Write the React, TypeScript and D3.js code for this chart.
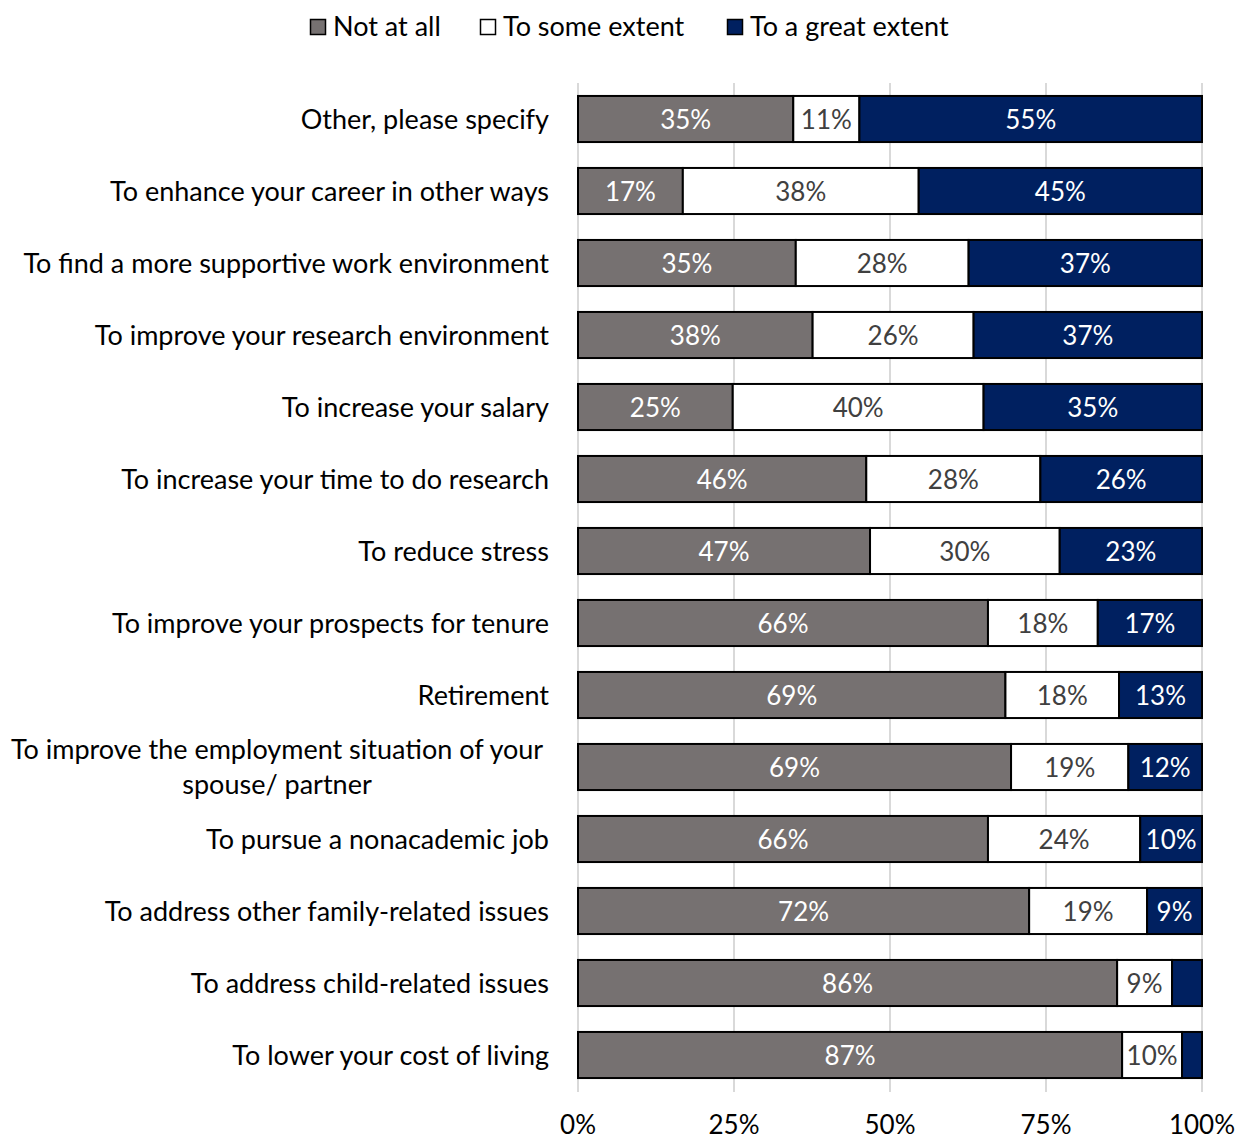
import React from "react";
import * as d3 from "d3";

const categories = [
  "Other, please specify",
  "To enhance your career in other ways",
  "To find a more supportive work environment",
  "To improve your research environment",
  "To increase your salary",
  "To increase your time to do research",
  "To reduce stress",
  "To improve your prospects for tenure",
  "Retirement",
  "To improve the employment situation of your spouse/ partner",
  "To pursue a nonacademic job",
  "To address other family-related issues",
  "To address child-related issues",
  "To lower your cost of living",
];

const notAtAll = [34.5, 16.8, 34.9, 37.6, 24.8, 46.2, 46.8, 65.7, 68.5, 69.4, 65.7, 72.3, 86.4, 87.2];
const toSomeExtent = [10.6, 37.8, 27.7, 25.8, 40.2, 27.9, 30.4, 17.6, 18.2, 18.8, 24.4, 18.9, 8.8, 9.6];
const toAGreatExtent = [54.9, 45.4, 37.4, 36.6, 35.0, 25.9, 22.8, 16.7, 13.3, 11.8, 9.9, 8.8, 4.8, 3.2];

const seriesNames = ["Not at all", "To some extent", "To a great extent"];
const xTicks = [0, 25, 50, 75, 100];

const colors = ["#767171", "#ffffff", "#002060"];
const textColors = ["#ffffff", "#404040", "#ffffff"];

const wrapped: Record<string, string[]> = {
  "To improve the employment situation of your spouse/ partner": [
    "To improve the employment situation of your",
    "spouse/ partner",
  ],
};

export default function App() {
  const width = 1237;
  const height = 1140;
  const font = "Lato, 'Open Sans', sans-serif";
  const x = d3.scaleLinear().domain([0, 100]).range([578, 1202]);
  const y = d3
    .scaleBand<string>()
    .domain(categories)
    .range([83, 1091])
    .paddingInner(0.36)
    .paddingOuter(0.18);

  const rows = categories.map((c, i) => ({
    cat: c,
    v0: notAtAll[i],
    v1: toSomeExtent[i],
    v2: toAGreatExtent[i],
  }));
  const stack = d3.stack<any>().keys(["v0", "v1", "v2"]);
  const stacked = stack(rows);

  const legendX = [310, 480, 727];

  return (
    <svg
      width={width}
      height={height}
      style={{ position: "absolute", left: 0, top: 0, background: "#fff" }}
      fontFamily={font}
    >
      <rect x={0} y={0} width={width} height={height} fill="#fff" />
      {/* legend */}
      {seriesNames.map((s, i) => (
        <g key={s}>
          <rect
            x={legendX[i] + 0.5}
            y={19.5}
            width={15}
            height={15}
            fill={colors[i]}
            stroke="#000"
            strokeWidth={1.5}
          />
          <text x={legendX[i] + 23} y={36} fontSize={27} fill="#000">
            {s}
          </text>
        </g>
      ))}
      {/* gridlines */}
      {xTicks.map((t) => (
        <line
          key={t}
          x1={x(t)}
          x2={x(t)}
          y1={83}
          y2={1092}
          stroke="#d9d9d9"
          strokeWidth={2}
        />
      ))}
      {/* bars */}
      {stacked.map((layer, si) =>
        layer.map((d: any, i: number) => {
          const cat = categories[i];
          const x0 = x(d[0]);
          const x1 = x(d[1]);
          const yy = y(cat)!;
          const val = d[1] - d[0];
          return (
            <g key={`${si}-${i}`}>
              <rect
                x={x0}
                y={yy}
                width={x1 - x0}
                height={y.bandwidth()}
                fill={colors[si]}
                stroke="#000"
                strokeWidth={2}
              />
              {val >= 5 && (
                <text
                  x={(x0 + x1) / 2}
                  y={yy + y.bandwidth() / 2 + 10}
                  textAnchor="middle"
                  fontSize={26}
                  fill={textColors[si]}
                >
                  {Math.round(val)}%
                </text>
              )}
            </g>
          );
        })
      )}
      {/* category labels */}
      {categories.map((c) => {
        const cy = y(c)! + y.bandwidth() / 2;
        const lines = wrapped[c];
        if (lines) {
          return (
            <g key={c}>
              {lines.map((l, k) => (
                <text
                  key={k}
                  x={277}
                  y={cy + 9.5 + (k - 0.5) * 35}
                  textAnchor="middle"
                  fontSize={27}
                  fill="#000"
                >
                  {l}
                </text>
              ))}
            </g>
          );
        }
        return (
          <text
            key={c}
            x={549}
            y={cy + 9.5}
            textAnchor="end"
            fontSize={27}
            fill="#000"
          >
            {c}
          </text>
        );
      })}
      {/* x axis tick labels */}
      {xTicks.map((t) => (
        <text
          key={t}
          x={x(t)}
          y={1134}
          textAnchor="middle"
          fontSize={26}
          fill="#000"
        >
          {t}%
        </text>
      ))}
    </svg>
  );
}
